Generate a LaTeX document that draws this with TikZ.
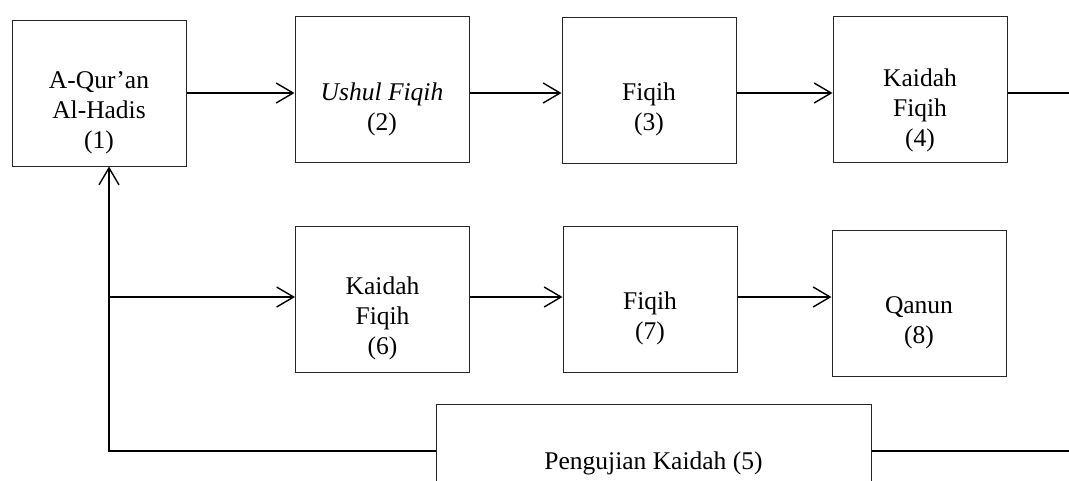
\documentclass[tikz,border=0pt]{standalone}
\usepackage{fontspec}
\setmainfont{Liberation Serif}
\usetikzlibrary{arrows.meta}
\tikzset{
  box/.style={draw=black!85, line width=1pt, minimum width=174pt, minimum height=146pt, inner sep=0pt},
  txt/.style={align=center, font=\fontsize{25.5}{30}\selectfont, inner sep=0pt},
  conn/.style={line width=1.4pt, black},
  arr/.style={conn, -{Straight Barb[length=17pt,width=20pt,line width=1.4pt]}}
}
\begin{document}
\begin{tikzpicture}[x=1pt,y=-1pt]
\useasboundingbox (0,0) rectangle (1069,480);
\clip (0,0) rectangle (1069,480);
% boxes
\node[box] (b1) at (99,93) {};
\node[box] (b2) at (382,89) {};
\node[box] (b3) at (649,90) {};
\node[box] (b4) at (920,89) {};
\node[box] (b6) at (382.5,299) {};
\node[box] (b7) at (650,299.5) {};
\node[box] (b8) at (919,303) {};
\node[draw=black!85, line width=1pt, minimum width=435pt, minimum height=90pt, inner sep=0pt] (b5) at (653.5,449) {};
% texts
\node[txt] (t1) at (99,113) {A-Qur'an\\Al-Hadis\\(1)};
\node[txt] (t2) at (382,109) {\textit{Ushul Fiqih}\\(2)};
\node[txt] (t3) at (649,109) {Fiqih\\(3)};
\node[txt] (t4) at (920,110) {Kaidah\\Fiqih\\(4)};
\node[txt] (t6) at (382.5,318) {Kaidah\\Fiqih\\(6)};
\node[txt] (t7) at (650,318) {Fiqih\\(7)};
\node[txt] (t8) at (919,323) {Qanun\\(8)};
\node[txt] (t5) at (653.5,463) {Pengujian Kaidah (5)};
% helper coordinates
\coordinate (r1) at (1069,93);
\coordinate (c1) at (109,451);
\coordinate (c2) at (109,297);
\coordinate (r2) at (1069,451);
% top row
\draw[arr] (b1.east) -- (b1.east -| b2.west);
\draw[arr] (b2.east |- b1.east) -- (b1.east -| b3.west);
\draw[arr] (b3.east |- b1.east) -- (b1.east -| b4.west);
\draw[conn] (b4.east |- r1) -- (r1);
% feedback loop
\draw[arr] (c1 -| b5.west) -- (c1) -- (c1 |- b1.south);
\draw[arr] (c2) -- (c2 -| b6.west);
\draw[arr] (b6.east |- c2) -- (c2 -| b7.west);
\draw[arr] (b7.east |- c2) -- (c2 -| b8.west);
\draw[conn] (b5.east |- r2) -- (r2);
\end{tikzpicture}
\end{document}
